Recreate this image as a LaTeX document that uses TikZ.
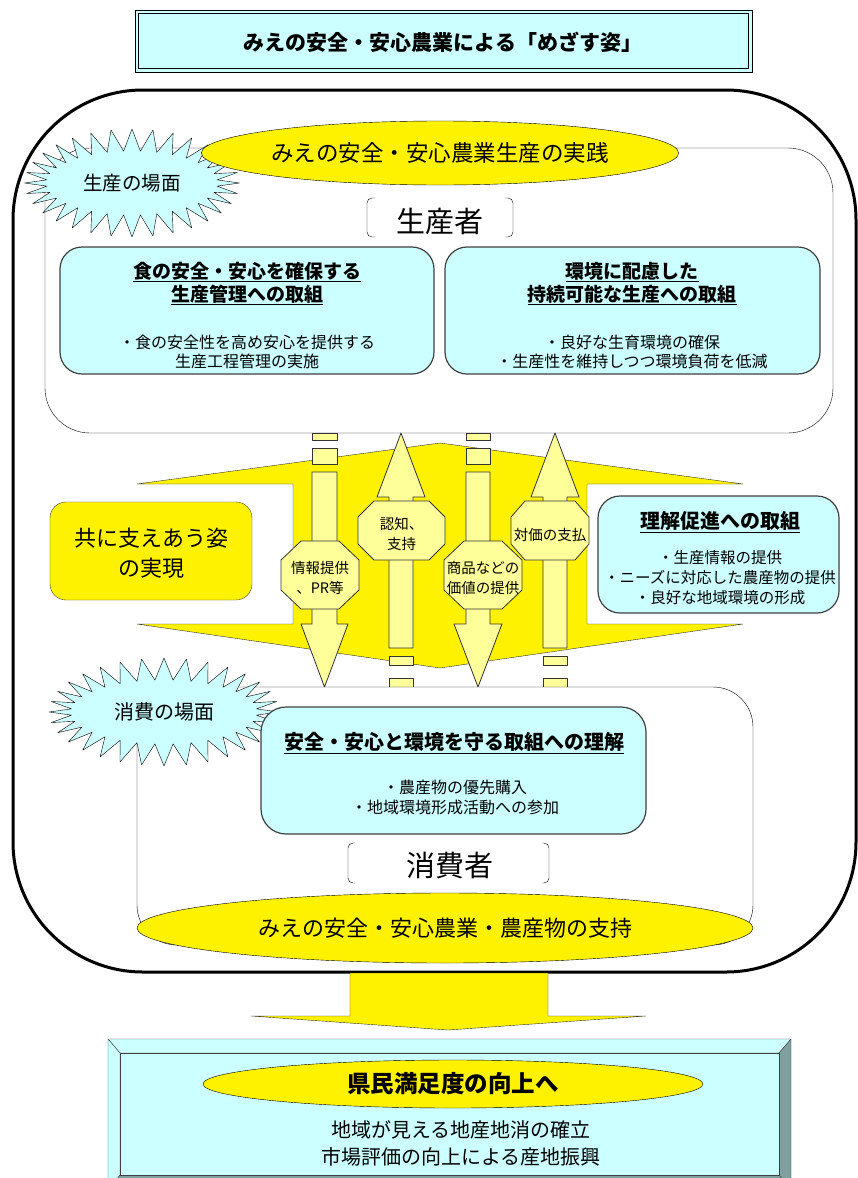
\documentclass[tikz,border=0pt]{standalone}
\usepackage{fontspec}
\setmainfont{Noto Sans CJK JP}
\usetikzlibrary{shapes.geometric,shapes.symbols}
\definecolor{paleblue}{RGB}{204,255,255}
\definecolor{lemon}{RGB}{255,255,153}
\definecolor{slate}{RGB}{128,160,160}

\begin{document}
\begin{tikzpicture}[x=1pt,y=-1pt,line join=round,
    infobox/.style={fill=paleblue,draw=black!75,line width=1.2pt,rounded corners=22pt},
    flow/.style={fill=lemon,draw=black!80,line width=0.8pt},
    oval/.style={ellipse,draw,fill=yellow,inner sep=0pt,font=\fontsize{22}{26}\selectfont},
    burst/.style={starburst,starburst points=32,starburst point height=22pt,random starburst=0,
      draw,fill=paleblue,inner sep=0pt,font=\fontsize{19.5}{22}\selectfont},
    head/.style={font=\bfseries\fontsize{19}{23}\selectfont,align=center,inner sep=0pt},
    body/.style={font=\fontsize{16}{19}\selectfont,align=center,inner sep=0pt},
    octtext/.style={font=\fontsize{14.5}{20}\selectfont,align=center,inner sep=0pt}]
        \useasboundingbox (0,0) rectangle (857,1178);
        % Title
        \filldraw[fill=paleblue] (135,10) rectangle (752,72);
        \draw (138.5,13.5) rectangle (748.5,68.5);
        \draw (443,42) node[font=\bfseries\fontsize{21}{24}\selectfont] (goal) {みえの安全・安心農業による「めざす姿」};
        \draw[line width=3pt,rounded corners=130pt] (13,90) rectangle (856,972);
        % Production
        \filldraw[fill=white,rounded corners=45pt] (45,148) rectangle (833,433);
        \node[burst,minimum width=215pt,minimum height=108pt] (prodscene) at (132,183) {生産の場面};
        \node[oval,minimum width=432pt,minimum height=64pt,font=\fontsize{22.5}{26}\selectfont] (practice) at (440,153) {みえの安全・安心農業生産の実践};
        \draw (440,221) node[font=\fontsize{29}{32}\selectfont] (producer) {生産者};
        \draw[rounded corners=5pt] (375,198) -- (367,198) -- (367,237) -- (375,237);
        \draw[rounded corners=5pt] (505,198) -- (513,198) -- (513,237) -- (505,237);
        \filldraw[infobox] (60,247) rectangle (434,374);
        \node[head] (safetyhead) at (247,283.5) {\underline{食の安全・安心を確保する}\\\underline{生産管理への取組}};
        \node[body] (safetytext) at (247,351.5) {・食の安全性を高め安心を提供する\\生産工程管理の実施};
        \filldraw[infobox] (445,247) rectangle (820,374);
        \node[head] (ecohead) at (632,283.5) {\underline{環境に配慮した}\\\underline{持続可能な生産への取組}};
        \node[body] (ecotext) at (632,351.5) {・良好な生育環境の確保\\・生産性を維持しつつ環境負荷を低減};
        % Mutual support band
        \filldraw[fill=yellow,draw=black!80] (137,484) -- (440,443) -- (743,484) -- (587,484) -- (587,624)
          -- (743,624) -- (440,668) -- (137,624) -- (293,624) -- (293,484) -- cycle;
        \filldraw[fill=yellow,draw=black!75,rounded corners=16pt] (50,502) rectangle (252,600);
        \node[font=\fontsize{22}{30}\selectfont,align=center] (together) at (151,553) {共に支えあう姿\\の実現};
        \filldraw[infobox] (598,496) rectangle (839,613);
        \node[head,font=\bfseries\fontsize{20}{23}\selectfont] (promohead) at (720,522) {\underline{理解促進への取組}};
        \node[body,font=\fontsize{15.5}{20}\selectfont] (promotext) at (720,578) {・生産情報の提供\\・ニーズに対応した農産物の提供\\・良好な地域環境の形成};
        % First arrow (down)
        \filldraw[flow] (312,433) rectangle (337,440);
        \filldraw[flow] (312,448) rectangle (337,464);
        \filldraw[flow] (312,472) -- (337,472) -- (337,624) -- (348,624) -- (324.5,687) -- (301,624) -- (312,624) -- cycle;
        % Second arrow (up)
        \filldraw[flow] (401,433) -- (425,497) -- (413,497) -- (413,648) -- (389,648) -- (389,497) -- (377,497) -- cycle;
        \filldraw[flow] (389,656) rectangle (413,665);
        \filldraw[flow] (389,678) rectangle (413,687);
        % Third arrow (down)
        \filldraw[flow] (466,433) rectangle (490,440);
        \filldraw[flow] (466,448) rectangle (490,464);
        \filldraw[flow] (466,472) -- (490,472) -- (490,624) -- (502,624) -- (478,687) -- (454,624) -- (466,624) -- cycle;
        % Fourth arrow (up)
        \filldraw[flow] (555,433) -- (579,497) -- (567,497) -- (567,648) -- (543,648) -- (543,497) -- (531,497) -- cycle;
        \filldraw[flow] (543,656) rectangle (567,665);
        \filldraw[flow] (543,678) rectangle (567,687);
        % Octagons
        \filldraw[flow] (281,560) -- (301,541) -- (339,541) -- (359,560) -- (359,590) -- (339,609) -- (301,609) -- (281,590) -- cycle;
        \node[octtext] (info) at (320,578) {情報提供\\、PR等};
        \filldraw[flow] (358,517) -- (374,501) -- (429,501) -- (445,517) -- (445,544) -- (429,560) -- (374,560) -- (358,544) -- cycle;
        \node[octtext] (recognize) at (401.5,534) {認知、\\支持};
        \filldraw[flow] (444,560) -- (464,541) -- (502,541) -- (522,560) -- (522,590) -- (502,609) -- (464,609) -- (444,590) -- cycle;
        \node[octtext] (value) at (483,578) {商品などの\\価値の提供};
        \filldraw[flow] (511,517) -- (525,501) -- (575,501) -- (589,517) -- (589,544) -- (575,560) -- (525,560) -- (511,544) -- cycle;
        \node[octtext] (payment) at (550,535) {対価の支払};
        % Consumption
        \filldraw[fill=white,rounded corners=40pt] (137,687) rectangle (753,945);
        \node[burst,minimum width=230pt,minimum height=108pt,font=\fontsize{20}{22}\selectfont] (consscene) at (164,712) {消費の場面};
        \filldraw[infobox,rounded corners=25pt] (261,707) rectangle (646,834);
        \node[head,font=\bfseries\fontsize{20}{23}\selectfont] (understand) at (454,743) {\underline{安全・安心と環境を守る取組への理解}};
        \node[body,font=\fontsize{16}{20}\selectfont] (purchase) at (455,797) {・農産物の優先購入\\・地域環境形成活動への参加};
        \draw (450,865) node[font=\fontsize{29}{32}\selectfont] (consumer) {消費者};
        \draw[rounded corners=5pt] (355,843) -- (348,843) -- (348,883) -- (355,883);
        \draw[rounded corners=5pt] (542,843) -- (549,843) -- (549,883) -- (542,883);
        \node[oval,minimum width=616pt,minimum height=70pt] (support) at (445,928) {みえの安全・安心農業・農産物の支持};
        % Result
        \filldraw[fill=yellow,draw=black!80] (350,973) -- (548,973) -- (548,1016) -- (646,1016) -- (448,1030)
          -- (251,1016) -- (350,1016) -- cycle;
        \filldraw[fill=paleblue,draw=black!75] (108,1039) -- (791,1039) -- (779,1053) -- (120,1053) -- cycle;
        \filldraw[fill=paleblue,draw=black!75] (108,1039) -- (120,1053) -- (120,1175) -- (108,1190) -- cycle;
        \filldraw[fill=slate,draw=black!75] (791,1039) -- (791,1190) -- (779,1175) -- (779,1053) -- cycle;
        \filldraw[fill=slate,draw=black!75] (108,1190) -- (120,1175) -- (779,1175) -- (791,1190) -- cycle;
        \filldraw[fill=paleblue,draw=black!75] (120,1053) rectangle (779,1175);
        \node[oval,minimum width=500pt,minimum height=48pt,font=\bfseries\fontsize{23.5}{26}\selectfont] (satisfy) at (453,1084) {県民満足度の向上へ};
        \node[body,font=\fontsize{20}{27}\selectfont] (local) at (461,1143) {地域が見える地産地消の確立\\市場評価の向上による産地振興};
      \end{tikzpicture}
\end{document}
